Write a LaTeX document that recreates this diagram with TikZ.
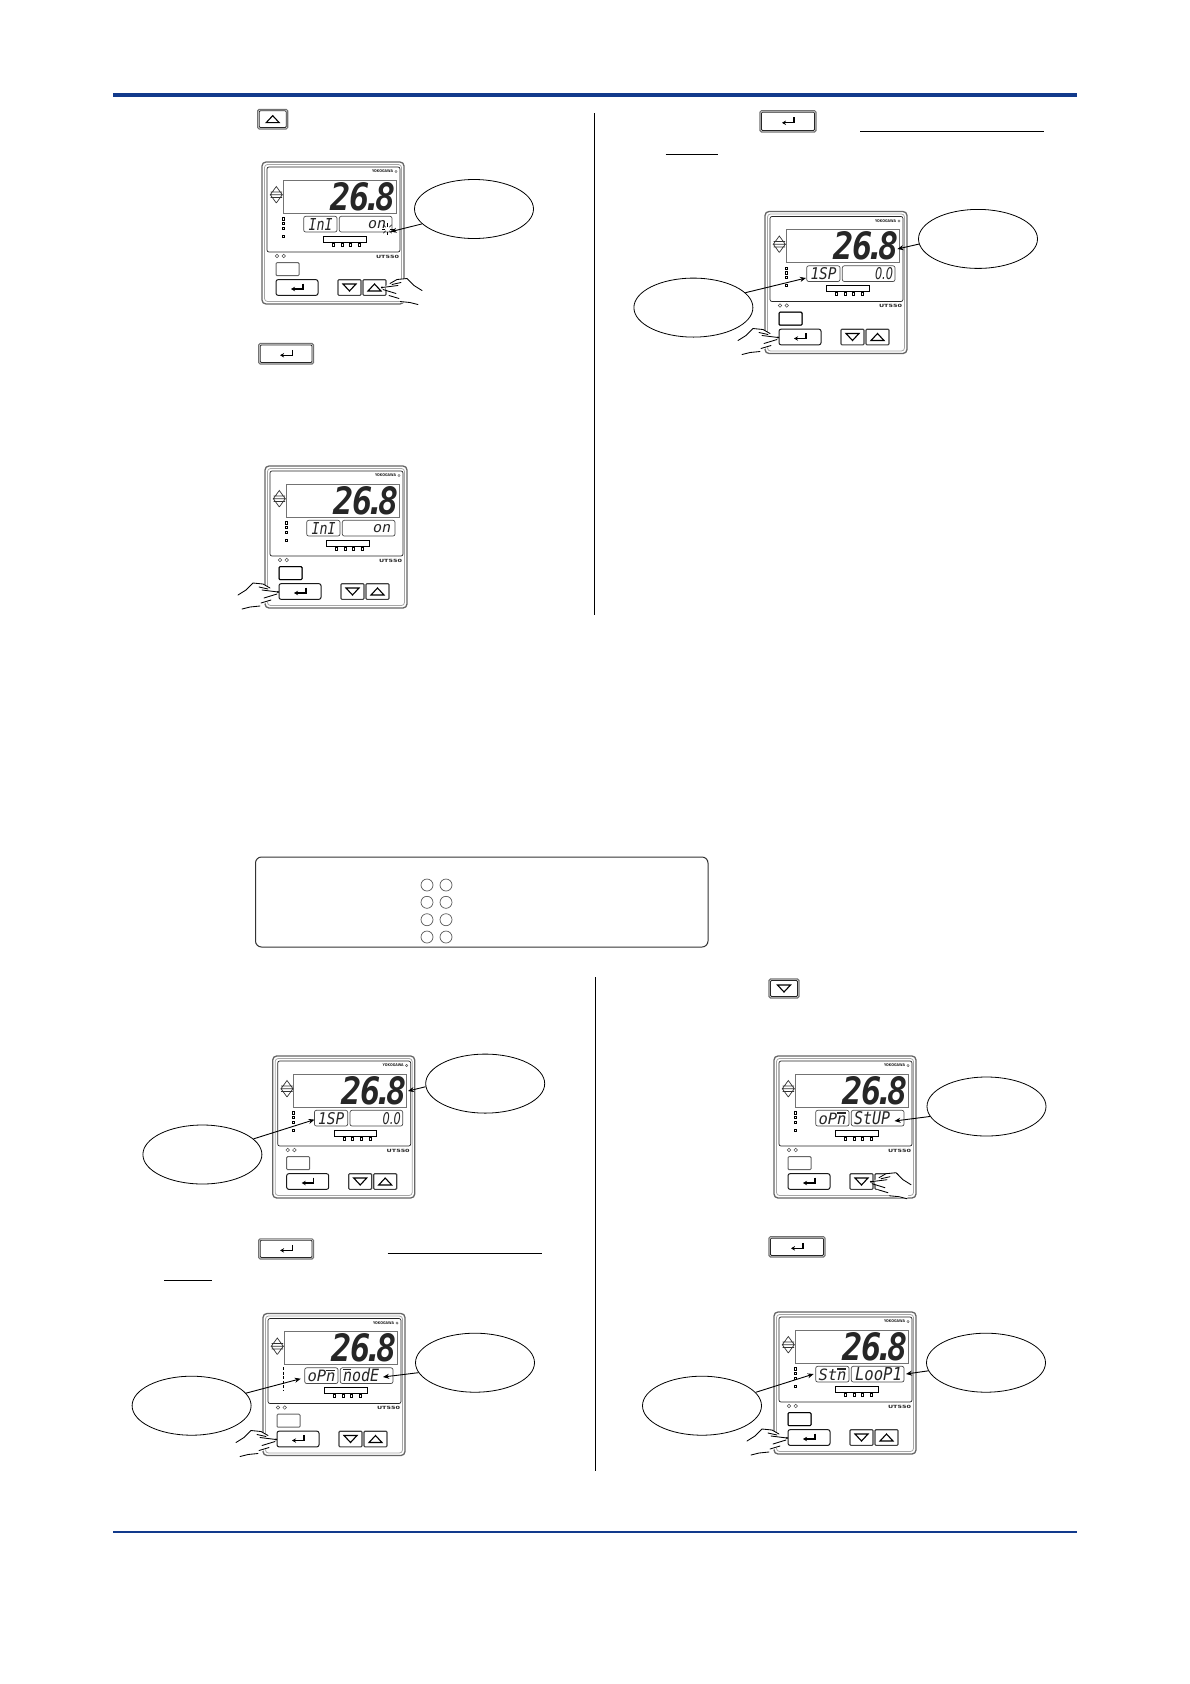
\documentclass[tikz,border=0pt]{standalone}
\usepackage{fontspec}
\usepackage{graphicx}
\usetikzlibrary{shapes.geometric,arrows.meta}
\setmainfont{DejaVu Sans}
\newfontfamily\segfont{DejaVu Sans Mono}
\definecolor{navy}{HTML}{123A8C}
\newcommand\seg[3]{\resizebox{#1pt}{#2pt}{\segfont\itshape #3}}
\newcommand\segs[3]{\resizebox{#1pt}{#2pt}{\itshape #3}}
\newcommand\nbar{\leavevmode\rlap{\raisebox{0.68em}{\rule{0.55em}{0.09em}}}n}
\tikzset{
  callout/.style={ellipse,draw=black,line width=0.8pt,fill=white,minimum width=119pt,minimum height=59pt,inner sep=0pt},
  lead/.style={draw=black,line width=0.9pt,-{Stealth[length=6pt,width=5pt]}},
  txt/.style={inner sep=0pt,outer sep=0pt,text=black!85},
  keyo/.style={draw=black!55,line width=1.1pt,fill=white,rounded corners=1.5pt},
  keyi/.style={draw=black!85,line width=0.8pt,rounded corners=1pt},
  note/.style={draw=black,line width=1pt}
}
\newcommand\faceup[1]{\draw[black,line width=1.1pt,line join=miter] (#1) ++(-6.5,3.5) -- ++(13,0) -- ++(-6.5,-7) -- cycle;}
\newcommand\facedown[1]{\draw[black,line width=1.1pt,line join=miter] (#1) ++(-6.5,-3.5) -- ++(13,0) -- ++(-6.5,7) -- cycle;}
\newcommand\faceenter[1]{\draw[black,line width=1.1pt,-{Stealth[length=4pt,width=4.5pt]}] (#1) ++(6,-4) -- ++(0,5.5) -- ++(-12,0);}
\newcommand\bigkey[5]{%
  \draw[keyo] (#1,#2) rectangle (#3,#4);
  \draw[keyi] ({#1+1.5},{#2+1.5}) rectangle ({#3-1.5},{#4-1.5});
  #5{{(#1+#3)/2},{(#2+#4)/2}}}
\newcommand\hand[3]{%
  \begin{scope}[shift={(#1,#2)},xscale=#3]
    \fill[white] (3,-1) -- (15,-8) -- (25,-9) -- (32,-2) -- (41,3) -- (36,17) -- (20,15) -- (7,8) -- cycle;
    \draw[black,line width=0.85pt,line cap=round,line join=round]
      (8,-4) -- (15,-8) -- (25,-9) -- (32,-2) -- (40,3)
      (10,-3) -- (19,-5)
      (0,0) -- (16,-2) (1,2) -- (14,6)
      (7,8) -- (17,11)
      (18,14) -- (28,15) -- (36,17);
    \fill[black] (0,0) circle (1.1pt);
  \end{scope}}
\newcommand\panel[7]{%
 \begin{scope}[shift={(#2,#3)}]
  \draw[draw=black!60,line width=1.3pt,rounded corners=4pt,fill=white] (0,0) rectangle (142,142);
  \draw[draw=black!35,line width=0.8pt,rounded corners=3pt] (2.5,2.5) rectangle (139.5,139.5);
  \draw[draw=black!85,line width=0.7pt,rounded corners=2pt] (5,5) rectangle (138,90);
  \node[txt,anchor=east] (#1-brand) at (131,9.5) {\resizebox{21pt}{2.8pt}{\bfseries YOKOGAWA}};
  \draw[black!70,line width=0.4pt] (134,9.5) circle (1.2pt);
  \draw[black!55,line width=0.6pt] (21,18) rectangle (134,51);
  \node[txt,anchor=east] (#1-main) at (133.5,34.5) {\resizebox{65pt}{28pt}{\segfont\bfseries\itshape 2\kern-0.03em6\kern-0.22em.\kern-0.22em8}};
  \draw[black!80,line width=0.7pt] (14.3,24.5) -- (8.3,32.7) -- (20.3,32.7) -- cycle
     (14.3,41) -- (8.3,32.7) (14.3,41) -- (20.3,32.7) (8.5,30) -- (20,30) (8.5,35.5) -- (20,35.5);
  #7
  \draw[black!70,line width=0.7pt,rounded corners=2pt] (41.7,54.3) rectangle (75,70);
  \draw[black!70,line width=0.7pt,rounded corners=2pt] (77.3,54.3) rectangle (130,70);
  \node[txt,anchor=center] (#1-left) at (58.5,62.3) {#4};
  #5
  \draw[black,line width=0.7pt] (61.7,74.3) rectangle (104,80);
  \foreach \qx in {71.7,80,88.3,97.7} \draw[black,line width=0.6pt] (\qx-1,81) rectangle (\qx+1,84);
  \foreach \qx in {15,21.7} \draw[black!70,line width=0.5pt] (\qx,94) circle (1.8pt);
  \node[txt,anchor=east] (#1-model) at (137,94.5) {\resizebox{23pt}{3.2pt}{\bfseries UT550}};
  \draw[draw=black!60,line width=1pt,rounded corners=1pt] (14,100.7) rectangle (37,113.7);
  \draw[draw=black!90,line width=1pt,rounded corners=2pt] (14,117.7) rectangle (56,133.3);
  \faceenter{35,125.5}
  \draw[draw=black!75,line width=1.1pt,rounded corners=1pt] (76,117.7) rectangle (99,133.3);
  \draw[draw=black!75,line width=1.1pt,rounded corners=1pt] (101,117.7) rectangle (124,133.3);
  \facedown{87.5,125.5}
  \faceup{112.5,125.5}
  #6
 \end{scope}}
\newcommand\ledsa{\foreach \qy in {56.7,61.3,66,74} \draw[black,line width=0.5pt] (20,\qy-1.2) rectangle (21.8,\qy+1.2);}
\newcommand\ledsb{\draw[black,line width=1.4pt,dash pattern=on 3pt off 1.6pt] (20.7,53.5) -- (20.7,77);}
\newcommand\darksq{\draw[draw=black,line width=1pt,rounded corners=1pt] (14,100.7) rectangle (37,113.7);}
\begin{document}
\begin{tikzpicture}[x=1pt,y=-1pt]
\useasboundingbox (0,0) rectangle (1190,1684);
\fill[white] (0,0) rectangle (1190,1684);
% rules
\draw[navy,line width=4pt] (113,95) -- (1077,95);
\draw[navy,line width=1.5pt] (113,1532) -- (1077,1532);
\draw[black,line width=1pt] (594,113) -- (594,615);
\draw[black,line width=1pt] (595,977) -- (595,1471);
% stand-alone keys
\bigkey{257.7}{109.3}{287.7}{129}{\faceup}
\bigkey{258.7}{343.5}{313.5}{364}{\faceenter}
\bigkey{760}{110.6}{816}{132}{\faceenter}
\bigkey{258.7}{1238.8}{313.5}{1259}{\faceenter}
\bigkey{769}{979}{799}{998}{\facedown}
\bigkey{769}{1236.6}{825}{1257}{\faceenter}
% underlines
\draw[note] (860,131) -- (1043.5,131);
\draw[note] (665.6,154.6) -- (718,154.6);
\draw[note] (387.5,1253.8) -- (542,1253.8);
\draw[note] (164,1280.6) -- (211.5,1280.6);
% panels
\panel{p1}{262}{162}{\seg{24}{12}{InI}}{\node[txt,anchor=east] (p1-right) at (124,62.3) {\seg{18}{8}{on}};}{\hand{120}{125.5}{1}
  \foreach \qa in {0,45,...,315} \draw[black,line width=0.6pt] (125.5,67) ++(\qa:2.5) -- ++(\qa:3.5);}{\ledsa}
\panel{p2}{265}{466}{\seg{24}{12}{InI}}{\node[txt,anchor=east] (p2-right) at (126,62.3) {\seg{18}{8}{on}};}{\darksq\hand{13}{126}{-1}}{\ledsa}
\panel{p3}{765}{211.5}{\seg{26}{12}{1SP}}{\node[txt,anchor=east] (p3-right) at (128,62.3) {\segs{18}{12}{0.0}};}{\darksq\hand{13}{126}{-1}}{\ledsa}
\panel{p4}{272.7}{1056}{\seg{26}{12}{1SP}}{\node[txt,anchor=east] (p4-right) at (128,62.3) {\segs{18}{12}{0.0}};}{}{\ledsa}
\panel{p5}{263}{1313.5}{\seg{28}{12}{oP\nbar}}{\node[txt,anchor=west] (p5-right) at (80,61.8) {\seg{36}{13}{\nbar odE}};}{\hand{13}{126}{-1}}{\ledsb}
\panel{p6}{774}{1056}{\seg{28}{12}{oP\nbar}}{\node[txt,anchor=west] (p6-right) at (80,61.8) {\seg{36}{13}{StUP}};}{\hand{97}{125.7}{1}}{\ledsa}
\panel{p7}{774}{1312}{\seg{28}{12}{St\nbar}}{\node[txt,anchor=east] (p7-right) at (128,62.3) {\seg{47}{13}{LooP1}};}{\darksq\hand{13}{126}{-1}}{\ledsa}
% notice box
\draw[black!80,line width=1pt,rounded corners=6pt] (255.5,857) rectangle (708,947);
\foreach \qy in {885,902.3,919.7,937} \foreach \qx in {427,446} \draw[black!65,line width=0.7pt] (\qx,\qy) circle (6pt);
% callouts
\node[callout] (e1) at (474,209) {};
\node[callout] (e2) at (978,238.9) {};
\node[callout] (e3) at (693.4,307.6) {};
\node[callout] (e4) at (485.2,1083.6) {};
\node[callout] (e5) at (202.4,1154.5) {};
\node[callout] (e6) at (475,1362.7) {};
\node[callout] (e7) at (191.6,1405.7) {};
\node[callout] (e8) at (986.5,1106.5) {};
\node[callout] (e9) at (986,1362.7) {};
\node[callout] (e10) at (702,1405.7) {};
\coordinate (t1) at (390.7,231.7);
\coordinate (t2) at (897.4,249);
\coordinate (t3) at (806,278);
\coordinate (t4) at (408,1091);
\coordinate (t5) at (314.5,1119.6);
\coordinate (t6) at (383,1377);
\coordinate (t7) at (300.7,1378.7);
\coordinate (t8) at (894.5,1121);
\coordinate (t9) at (906,1374);
\coordinate (t10) at (813.6,1374);
\draw[lead] (e1.196) -- (t1);
\draw[lead] (e2.185) -- (t2);
\draw[lead] (e3.16) -- (t3);
\draw[lead] (e4.183) -- (t4);
\draw[lead] (e5.17) -- (t5);
\draw[lead] (e6.190) -- (t6);
\draw[lead] (e7.13) -- (t7);
\draw[lead] (e8.190) -- (t8);
\draw[lead] (e9.188) -- (t9);
\draw[lead] (e10.14) -- (t10);
\end{tikzpicture}
\end{document}
